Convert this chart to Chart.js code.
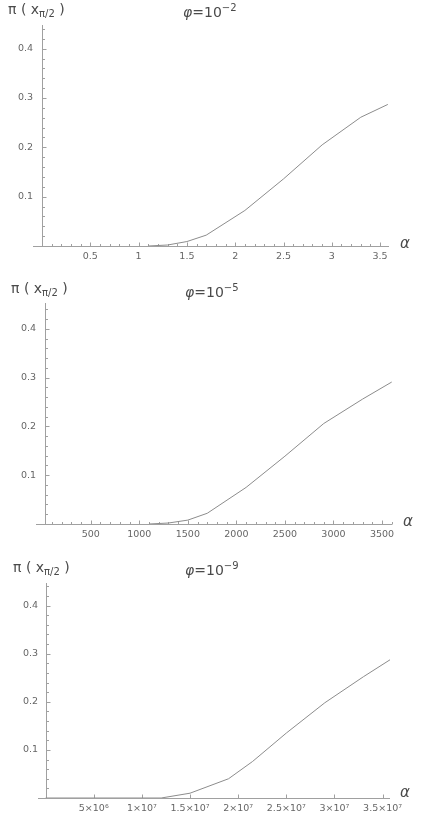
<!DOCTYPE html>
<html>
<head>
<meta charset="utf-8">
<script src="https://cdn.jsdelivr.net/npm/chart.js@4.4.0/dist/chart.umd.min.js"></script>
<style>
  body { margin: 0; width: 425px; height: 818px; background: #fff; position: relative; overflow: hidden;
         font-family: "DejaVu Sans", sans-serif; color: #4a4a4a; }
  canvas { position: absolute; left: 0; }
  .lbl { position: absolute; font-size: 14px; line-height: 1; white-space: nowrap; }
  .lbl sub { font-size: 10px; vertical-align: -3px; line-height: 0; }
  .lbl sup { font-size: 10px; vertical-align: 6px; line-height: 0; }
  .alpha { position: absolute; font-size: 15px; font-style: italic; line-height: 1; }
</style>
</head>
<body>
<canvas id="c1" width="425" height="270" style="top:0"></canvas>
<canvas id="c2" width="425" height="270" style="top:270px"></canvas>
<canvas id="c3" width="425" height="278" style="top:540px"></canvas>

<div class="lbl" style="left:8px; top:2px">π ( x<sub>π/2</sub> )</div>
<div class="lbl" style="left:183px; top:5px"><i>φ</i>=10<sup>−2</sup></div>
<div class="alpha" style="left:400px; top:236px">α</div>

<div class="lbl" style="left:11px; top:281px">π ( x<sub>π/2</sub> )</div>
<div class="lbl" style="left:185px; top:285px"><i>φ</i>=10<sup>−5</sup></div>
<div class="alpha" style="left:403px; top:514px">α</div>

<div class="lbl" style="left:13px; top:560px">π ( x<sub>π/2</sub> )</div>
<div class="lbl" style="left:185px; top:563px"><i>φ</i>=10<sup>−9</sup></div>
<div class="alpha" style="left:400px; top:785px">α</div>

<script>
// phi = 10^-2
const alpha1 = [1.1, 1.3, 1.5, 1.7, 2.1, 2.5, 2.9, 3.3, 3.58];
const pi1 = [0, 0.002, 0.009, 0.022, 0.072, 0.136, 0.205, 0.261, 0.287];
const xTicks1 = [0.5, 1, 1.5, 2, 2.5, 3, 3.5];
const xLabels1 = ['0.5', '1', '1.5', '2', '2.5', '3', '3.5'];

// phi = 10^-5
const alpha2 = [1100, 1300, 1500, 1700, 2100, 2500, 2900, 3300, 3600];
const pi2 = [0, 0.002, 0.008, 0.022, 0.075, 0.139, 0.206, 0.256, 0.291];
const xTicks2 = [500, 1000, 1500, 2000, 2500, 3000, 3500];
const xLabels2 = ['500', '1000', '1500', '2000', '2500', '3000', '3500'];

// phi = 10^-9
const alpha3 = [0, 1.2e7, 1.5e7, 1.9e7, 2.15e7, 2.5e7, 2.9e7, 3.3e7, 3.59e7];
const pi3 = [0, 0, 0.010, 0.040, 0.076, 0.135, 0.198, 0.252, 0.289];
const xTicks3 = [5e6, 1e7, 1.5e7, 2e7, 2.5e7, 3e7, 3.5e7];
const xLabels3 = ['5×10⁶', '1×10⁷', '1.5×10⁷', '2×10⁷', '2.5×10⁷', '3×10⁷', '3.5×10⁷'];

const yTicks = [0.1, 0.2, 0.3, 0.4];
const yLabels = ['0.1', '0.2', '0.3', '0.4'];

// mathematica style axes: crossing lines with small inward ticks
const mathAxes = {
    id: 'mathAxes',
    beforeDatasetsDraw(chart, args, opts) {
        const { ctx, chartArea: a, scales: { x, y } } = chart;
        const x0 = Math.round(x.getPixelForValue(opts.originX)) + 0.5;
        const y0 = Math.round(y.getPixelForValue(0)) + 0.5;
        ctx.save();
        ctx.strokeStyle = '#a0a0a0';
        ctx.lineWidth = 1;
        ctx.beginPath();
        ctx.moveTo(a.left, y0); ctx.lineTo(a.right, y0);
        ctx.moveTo(x0, y0); ctx.lineTo(x0, a.top);
        // x ticks
        for (let i = 1; i * opts.xMinor <= x.max; i++) {
            const v = i * opts.xMinor;
            const r = v / opts.xMajor;
            const len = Math.abs(r - Math.round(r)) < 1e-6 ? 4 : 2.5;
            const px = Math.round(x.getPixelForValue(v)) + 0.5;
            ctx.moveTo(px, y0); ctx.lineTo(px, y0 - len);
        }
        // y ticks
        for (let i = 1; i * 0.02 <= y.max; i++) {
            const len = i % 5 === 0 ? 4 : 2.5;
            const py = Math.round(y.getPixelForValue(i * 0.02)) + 0.5;
            ctx.moveTo(x0, py); ctx.lineTo(x0 + len, py);
        }
        ctx.stroke();
        ctx.restore();
    }
};

function makeChart(id, alpha, pi, p) {
    const ctx = document.getElementById(id).getContext('2d');
    const h = ctx.canvas.height;
    return new Chart(ctx, {
        type: 'line',
        data: {
            datasets: [{
                data: alpha.map((a, i) => ({ x: a, y: pi[i] })),
                borderColor: '#8c8c8c',
                borderWidth: 1,
                pointRadius: 0,
                tension: 0,
                fill: false
            }]
        },
        options: {
            responsive: false,
            animation: false,
            devicePixelRatio: 1,
            layout: { padding: { top: p.top, right: 425 - p.right, left: 0, bottom: 0 } },
            plugins: {
                legend: { display: false },
                tooltip: { enabled: false },
                mathAxes: { originX: p.originX, xMinor: p.xMinor, xMajor: p.xMajor }
            },
            scales: {
                x: {
                    type: 'linear',
                    min: p.xMin,
                    max: p.xMax,
                    grid: { display: false, drawTicks: false },
                    border: { display: false },
                    afterFit: s => { s.height = h - p.bottom; },
                    afterBuildTicks: s => { s.ticks = p.xTicks.map(v => ({ value: v })); },
                    ticks: {
                        padding: 5,
                        maxRotation: 0,
                        autoSkip: false,
                        color: '#666',
                        font: { family: 'DejaVu Sans', size: 9.5 },
                        callback: (v, i) => p.xLabels[i]
                    }
                },
                y: {
                    type: 'linear',
                    min: 0,
                    max: p.yMax,
                    grid: { display: false, drawTicks: false },
                    border: { display: false },
                    afterFit: s => { s.width = p.left; },
                    afterBuildTicks: s => { s.ticks = yTicks.map(v => ({ value: v })); },
                    ticks: {
                        padding: 0,
                        color: '#666',
                        font: { family: 'DejaVu Sans', size: 9.5 },
                        callback: (v, i) => yLabels[i]
                    }
                }
            }
        },
        plugins: [mathAxes]
    });
}

makeChart('c1', alpha1, pi1, {
    left: 33, right: 389, top: 25, bottom: 246,
    xMin: -0.093, xMax: 3.592, yMax: 0.448,
    originX: 0, xMinor: 0.1, xMajor: 0.5,
    xTicks: xTicks1, xLabels: xLabels1
});

makeChart('c2', alpha2, pi2, {
    left: 36, right: 392, top: 33, bottom: 254,
    xMin: -64, xMax: 3603, yMax: 0.453,
    originX: 30, xMinor: 100, xMajor: 500,
    xTicks: xTicks2, xLabels: xLabels2
});

makeChart('c3', alpha3, pi3, {
    left: 38, right: 390, top: 43, bottom: 258,
    xMin: -7.9e5, xMax: 3.577e7, yMax: 0.447,
    originX: 0, xMinor: 5e6, xMajor: 5e6,
    xTicks: xTicks3, xLabels: xLabels3
});
</script>
</body>
</html>
